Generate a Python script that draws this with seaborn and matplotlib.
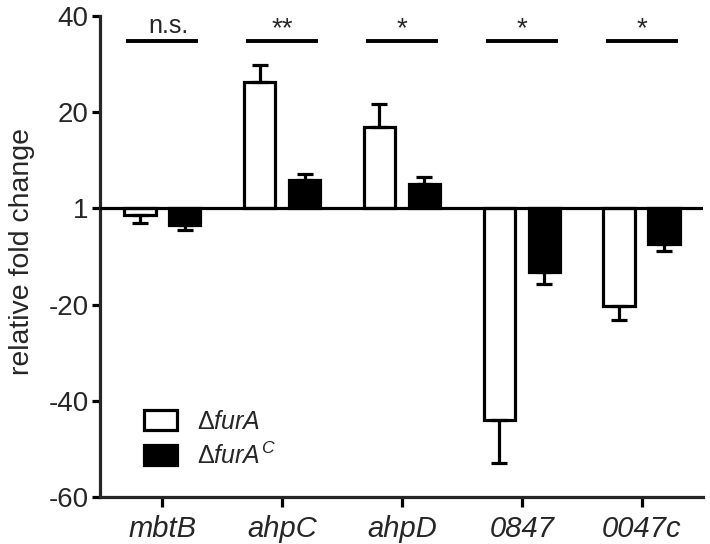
import matplotlib
matplotlib.use("Agg")
import matplotlib.pyplot as plt
import numpy as np
import pandas as pd
import seaborn as sns

# data (fold change, 1 drawn at the zero line)
genes = ["mbtB", "ahpC", "ahpD", "0847", "0047c"]
strains = ["dfurA", "dfurAC"]
mutant_mean = [-1.4, 26.3, 17.0, -43.9, -20.2]
mutant_err = [1.6, 3.5, 4.7, 9.0, 2.9]
compl_mean = [-3.5, 5.9, 5.0, -13.2, -7.3]
compl_err = [0.9, 1.2, 1.6, 2.5, 1.6]
signif = ["n.s.", "**", "*", "*", "*"]
ytick_vals = [-60, -40, -20, 0, 20, 40]
ytick_labels = ["-60", "-40", "-20", "1", "20", "40"]
legend_labels = [r"$\mathit{Δ furA}$", r"$\mathit{Δ furA}^{\mathit{C}}$"]

sns.set_style("ticks")
plt.rcParams["font.family"] = ["Liberation Sans", "DejaVu Sans"]
plt.rcParams["mathtext.fontset"] = "custom"
plt.rcParams["mathtext.it"] = "Liberation Sans:italic"
plt.rcParams["mathtext.rm"] = "Liberation Sans"

df = pd.DataFrame({
    "gene": genes * 2,
    "strain": [strains[0]] * 5 + [strains[1]] * 5,
    "value": mutant_mean + compl_mean,
    "err": mutant_err + compl_err,
})

lw = 2.3
fig = plt.figure(figsize=(7.1, 5.44), dpi=100)
ax = fig.add_axes([0.1408, 0.0864, 0.849, 0.8842])

sns.barplot(data=df, x="gene", y="value", hue="strain", order=genes,
            hue_order=strains, palette={"dfurA": "white", "dfurAC": "black"},
            width=0.75, gap=0.3, errorbar=None, edgecolor="black",
            linewidth=lw, ax=ax)

# one-sided error bars, pointing away from the baseline
for bars, (_, sub) in zip(ax.containers, df.groupby("strain", sort=False)):
    for rect, (_, row) in zip(bars, sub.iterrows()):
        xc = rect.get_x() + rect.get_width() / 2
        if row["value"] >= 0:
            yerr = [[0], [row["err"]]]
        else:
            yerr = [[row["err"]], [0]]
        ax.errorbar([xc], [row["value"]], yerr=yerr, fmt="none", ecolor="black",
                    elinewidth=lw, capsize=6, capthick=lw, zorder=1)

ax.axhline(0, color="black", lw=lw, zorder=3)

# significance bars
for i, s in enumerate(signif):
    ax.plot([i - 0.3, i + 0.3], [34.8, 34.8], color="black", lw=lw + 0.5,
            solid_capstyle="butt")
    if s == "n.s.":
        ax.text(i + 0.05, 35.4, s, ha="center", va="bottom", fontsize=18)
    else:
        ax.text(i, 34.6, s, ha="center", va="bottom", fontsize=20)

ax.set_xlim(-0.52, 4.51)
ax.set_ylim(-60, 40)
ax.set_yticks(ytick_vals)
ax.set_yticklabels(ytick_labels, fontsize=20)
ax.set_xticks(range(len(genes)))
ax.set_xticklabels(genes, fontsize=21, style="italic")
ax.set_xlabel("")
ax.set_ylabel("relative fold change", fontsize=20.5)
ax.yaxis.set_label_coords(-0.108, 0.51)

sns.despine(ax=ax)
for sp in ["left", "bottom"]:
    ax.spines[sp].set_linewidth(lw)
ax.tick_params(axis="both", width=lw, length=6, color="black", pad=2)
ax.tick_params(axis="x", length=7, pad=6)

handles, _ = ax.get_legend_handles_labels()
ax.legend(handles, legend_labels, loc="lower left", bbox_to_anchor=(0.035, 0.012),
          frameon=False, fontsize=18, handlelength=1.35, handleheight=0.85,
          handletextpad=0.8, labelspacing=0.35)

fig.savefig("out.png", dpi=100)
